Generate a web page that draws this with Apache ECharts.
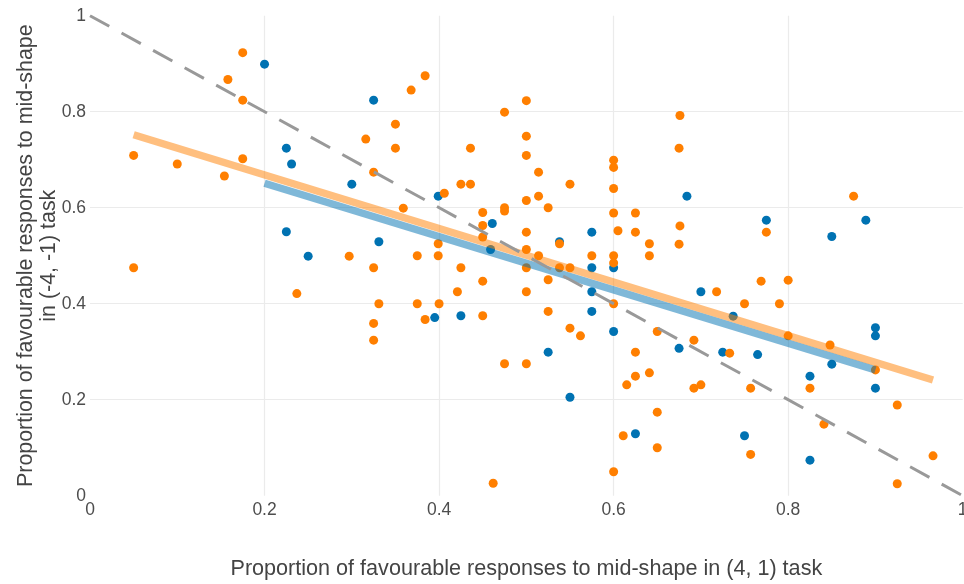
<!DOCTYPE html>
<html>
<head>
<meta charset="utf-8">
<script src="https://cdn.jsdelivr.net/npm/echarts@6/dist/echarts.min.js"></script>
<style>html,body{margin:0;padding:0;background:#fff}#c{width:964px;height:584px}</style>
</head>
<body>
<div id="c"></div>
<script>
// Blue group: [x, y]
var bluePoints = [
  [0.2,0.899],[0.325,0.824],[0.225,0.724],[0.231,0.691],[0.30,0.649],[0.225,0.55],[0.331,0.529],[0.25,0.499],
  [0.399,0.624],[0.461,0.567],[0.575,0.549],[0.459,0.513],[0.538,0.529],[0.575,0.475],[0.6,0.475],[0.575,0.425],
  [0.395,0.371],[0.425,0.375],[0.575,0.384],[0.6,0.342],[0.525,0.299],[0.55,0.205],[0.625,0.129],
  [0.684,0.624],[0.775,0.574],[0.889,0.574],[0.85,0.54],[0.70,0.425],[0.737,0.374],[0.90,0.35],[0.90,0.333],
  [0.675,0.307],[0.725,0.299],[0.765,0.294],[0.85,0.274],[0.825,0.249],[0.90,0.224],[0.75,0.125],[0.825,0.074]
];
// Orange group: [x, y]
var orangePoints = [
  [0.05,0.709],[0.05,0.475],[0.1,0.691],[0.154,0.666],[0.158,0.867],[0.175,0.923],[0.175,0.824],[0.175,0.702],
  [0.237,0.421],[0.297,0.499],[0.316,0.743],[0.325,0.674],[0.325,0.475],[0.331,0.40],[0.325,0.359],[0.325,0.324],
  [0.368,0.845],[0.384,0.875],[0.35,0.774],[0.35,0.724],[0.359,0.599],[0.375,0.50],[0.399,0.525],[0.399,0.50],[0.406,0.630],
  [0.5,0.823],[0.475,0.799],[0.5,0.749],[0.5,0.709],[0.436,0.724],[0.514,0.674],[0.55,0.649],[0.425,0.649],[0.436,0.649],
  [0.514,0.624],[0.5,0.615],[0.525,0.60],[0.45,0.590],[0.475,0.60],[0.475,0.593],[0.45,0.563],[0.45,0.539],[0.5,0.549],
  [0.5,0.513],[0.514,0.50],[0.538,0.525],[0.575,0.50],
  [0.6,0.699],[0.6,0.684],[0.6,0.640],[0.6,0.589],[0.625,0.589],[0.605,0.552],[0.625,0.549],[0.641,0.525],[0.641,0.50],
  [0.6,0.50],[0.6,0.485],
  [0.425,0.475],[0.5,0.475],[0.538,0.475],[0.55,0.475],[0.45,0.447],[0.525,0.45],[0.421,0.425],[0.5,0.425],
  [0.375,0.40],[0.40,0.40],[0.6,0.40],[0.384,0.367],[0.45,0.375],[0.525,0.384],[0.55,0.349],[0.562,0.333],[0.65,0.342],
  [0.625,0.299],[0.475,0.275],[0.5,0.275],[0.641,0.256],[0.625,0.249],[0.615,0.231],[0.65,0.174],[0.611,0.125],[0.65,0.10],
  [0.6,0.05],[0.462,0.026],
  [0.676,0.792],[0.675,0.724],[0.875,0.624],[0.775,0.549],[0.676,0.562],[0.675,0.524],[0.769,0.447],[0.80,0.449],
  [0.718,0.425],[0.75,0.40],[0.79,0.40],
  [0.80,0.333],[0.848,0.314],[0.692,0.324],[0.733,0.297],[0.90,0.262],[0.825,0.224],[0.692,0.224],[0.70,0.231],
  [0.757,0.224],[0.925,0.189],[0.841,0.149],[0.757,0.086],[0.966,0.083],[0.925,0.025]
];
// Fitted lines (end points) and reference diagonal
var blueFit = [[0.2,0.651],[0.9,0.262]];
var orangeFit = [[0.05,0.752],[0.966,0.241]];
var refLine = [[0,1],[1,0]];
var xTitle = 'Proportion of favourable responses to mid-shape in (4, 1) task';
var yTitle = 'Proportion of favourable responses to mid-shape\nin (-4, -1) task';

var FONT = '"Liberation Sans", Arial, sans-serif';
var chart = echarts.init(document.getElementById('c'), null, {renderer:'canvas'});
function axis(name, gap, size) {
  return {
    type:'value', min:0, max:1, interval:0.2,
    name:name, nameLocation:'middle', nameGap:gap, nameMoveOverlap:false,
    nameTextStyle:{fontFamily:FONT, fontSize:size, color:'#444', lineHeight:23},
    axisLine:{show:false}, axisTick:{show:false},
    axisLabel:{fontFamily:FONT, fontSize:17.5, color:'#4d4d4d', margin:5},
    splitLine:{show:true, showMinLine:false, showMaxLine:false, lineStyle:{color:'#ebebeb', width:1.2}}
  };
}
var xa = axis(xTitle, 62, 21.6);
var ya = axis(yTitle, 29, 21.4);
ya.nameRotate = 90;
ya.axisLabel.margin = 4;
chart.setOption({
  animation:false,
  backgroundColor:'#fff',
  grid:{left:90, right:1.3, top:15.7, bottom:88.3, containLabel:false, outerBoundsMode:'none'},
  xAxis:xa,
  yAxis:ya,
  series:[
    {type:'scatter', data:bluePoints, symbolSize:9, itemStyle:{color:'#0072b2', opacity:1}, z:2},
    {type:'scatter', data:orangePoints, symbolSize:9, itemStyle:{color:'#ff7f00', opacity:1}, z:2},
    {type:'line', data:blueFit, showSymbol:false, lineStyle:{color:'#0072b2', width:7.5, opacity:0.5, cap:'butt'}, z:3},
    {type:'line', data:orangeFit, showSymbol:false, lineStyle:{color:'#ff7f00', width:7.5, opacity:0.5, cap:'butt'}, z:3},
    {type:'line', data:refLine, showSymbol:false, lineStyle:{color:'#999', width:3, type:[22,14]}, z:4}
  ]
});
</script>
</body>
</html>
